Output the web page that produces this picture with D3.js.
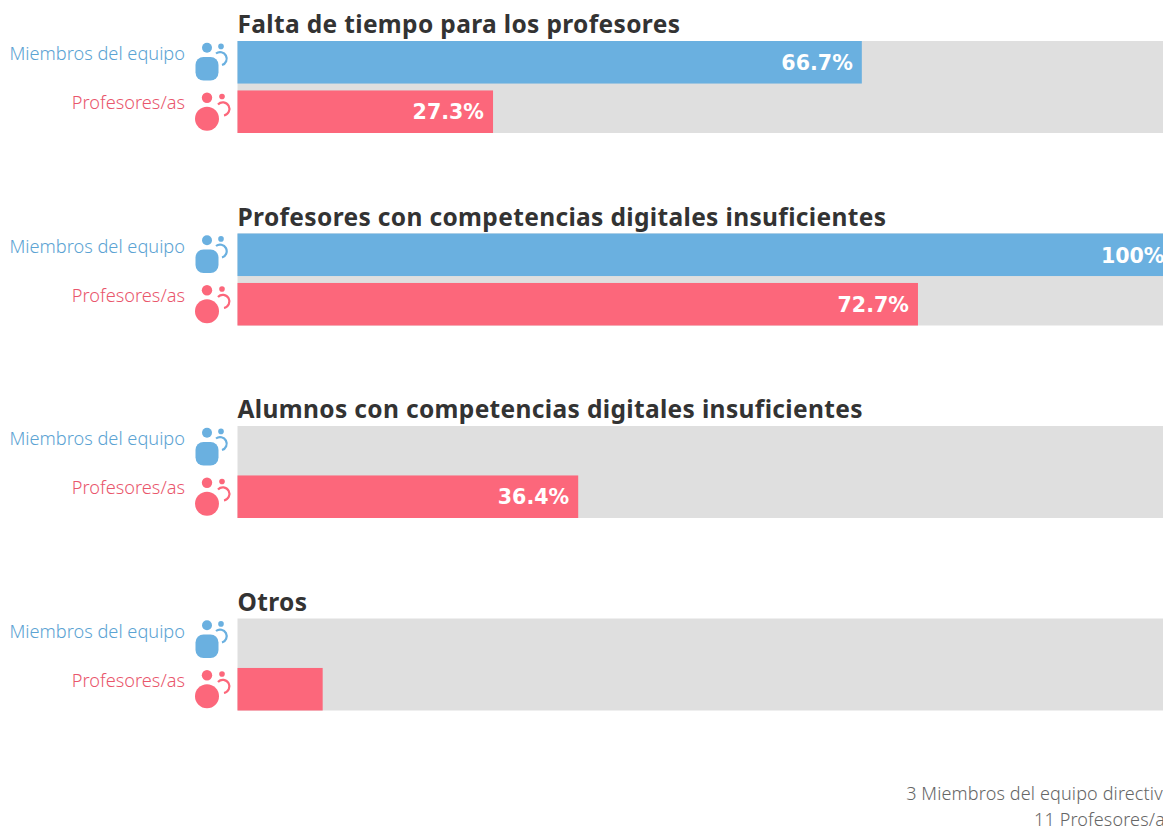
<!DOCTYPE html>
<html lang="es">
<head>
<meta charset="UTF-8">
<title>Obstáculos</title>
<script src="https://cdn.jsdelivr.net/npm/d3@7/dist/d3.min.js"></script>
<style>
    html, body { margin: 0; padding: 0; background: #fff; overflow: hidden; }
    svg { display: block; }
    .title { font: 700 24.5px "Noto Sans", sans-serif; fill: #333; letter-spacing: 0.35px; }
    .who { font: 300 18.2px "Noto Sans", sans-serif; }
    .value { font: 700 20.6px "DejaVu Sans", sans-serif; fill: #fff; }
    .foot { font: 300 18px "Noto Sans", sans-serif; fill: #666; letter-spacing: 0.14px; }
</style>
</head>
<body>
<script>
    const width = 1163;
    const height = 827;

    const categories = [
        'Falta de tiempo para los profesores',
        'Profesores con competencias digitales insuficientes',
        'Alumnos con competencias digitales insuficientes',
        'Otros'
    ];
    const groups = ['Miembros del equipo', 'Profesores/as'];
    const miembros = [66.7, 100, 0, 0];
    const profesores = [27.3, 72.7, 36.4, 9.1];
    const footer = ['3 Miembros del equipo directivo', '11 Profesores/as'];

    const colors = d3.scaleOrdinal().domain(groups).range(['#6ab0e0', '#fc677b']);
    const labelColors = d3.scaleOrdinal().domain(groups).range(['#5ba3d3', '#e9566c']);

    // the chart is wider than the window, so the right end gets cut off
    const x = d3.scaleLinear().domain([0, 100]).range([237.5, 1173.5]);
    const yCat = d3.scaleBand().domain(categories).range([41, 811]).paddingInner(0).paddingOuter(0);
    const yGroup = d3.scaleBand().domain(groups).range([0, 92]).paddingInner(0.14);

    const svg = d3.select('body').append('svg')
        .attr('width', width)
        .attr('height', height);

    const row = svg.selectAll('g.row')
        .data(categories)
        .enter()
        .append('g')
        .attr('class', 'row')
        .attr('transform', d => `translate(0,${yCat(d)})`);

    row.append('text')
        .attr('class', 'title')
        .attr('x', x(0))
        .attr('y', -8)
        .text(d => d);

    row.append('rect')
        .attr('x', x(0))
        .attr('width', x(100) - x(0))
        .attr('height', 92)
        .attr('fill', '#dfdfdf');

    const bars = row.selectAll('g.bar')
        .data((d, i) => groups.map((g, j) => ({
            group: g,
            value: (j === 0 ? miembros : profesores)[i]
        })))
        .enter()
        .append('g')
        .attr('class', 'bar')
        .attr('transform', d => `translate(0,${yGroup(d.group)})`);

    bars.append('rect')
        .attr('x', x(0))
        .attr('width', d => x(d.value) - x(0))
        .attr('height', yGroup.bandwidth())
        .attr('fill', d => colors(d.group));

    // small values have no room for a label
    bars.filter(d => d.value > 10).append('text')
        .attr('class', 'value')
        .attr('x', d => x(d.value) - 9)
        .attr('y', 29)
        .attr('text-anchor', 'end')
        .text(d => (d.value === 100 ? '100%' : d.value.toFixed(1) + '%'));

    bars.append('text')
        .attr('class', 'who')
        .attr('x', 185)
        .attr('y', 19)
        .attr('text-anchor', 'end')
        .attr('fill', d => labelColors(d.group))
        .text(d => d.group);

    // iconos
    bars.each(function (d, i) {
        const g = d3.select(this).append('g').attr('fill', colors(d.group));
        if (i === 0) {
            g.append('circle').attr('cx', 207).attr('cy', 6.7).attr('r', 5);
            g.append('rect').attr('x', 195.5).attr('y', 16).attr('width', 23).attr('height', 23.5).attr('rx', 8);
            g.append('circle').attr('cx', 221).attr('cy', 5.4).attr('r', 2.8);
            g.append('path').attr('d', 'M216,12.5 A6.6,6.6 0 1 1 222,24')
                .attr('fill', 'none').attr('stroke', colors(d.group)).attr('stroke-width', 2.2);
        } else {
            g.append('circle').attr('cx', 207).attr('cy', 7.3).attr('r', 5.2);
            g.append('circle').attr('cx', 207).attr('cy', 28.3).attr('r', 12);
            g.append('circle').attr('cx', 222).attr('cy', 6).attr('r', 2.8);
            g.append('path').attr('d', 'M218,14 A6.6,6.6 0 1 1 224,25')
                .attr('fill', 'none').attr('stroke', colors(d.group)).attr('stroke-width', 2.2);
        }
    });

    svg.selectAll('text.foot')
        .data(footer)
        .enter()
        .append('text')
        .attr('class', 'foot')
        .attr('x', x(100))
        .attr('y', (d, i) => 800 + i * 26)
        .attr('text-anchor', 'end')
        .text(d => d);
</script>
</body>
</html>
